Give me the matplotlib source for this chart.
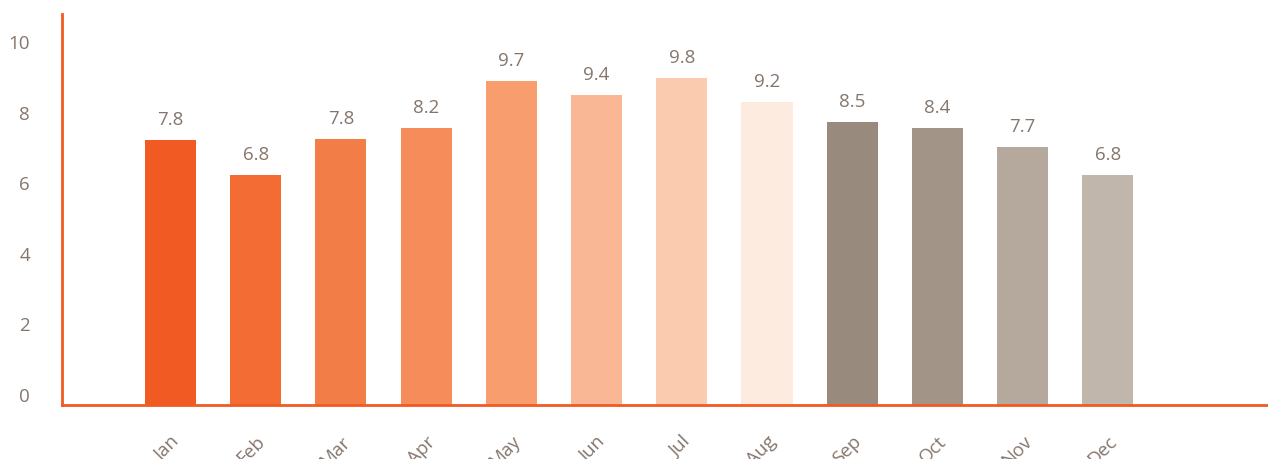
import matplotlib
matplotlib.use("Agg")
import matplotlib.pyplot as plt
import matplotlib.transforms as mtransforms

months = ["Jan", "Feb", "Mar", "Apr", "May", "Jun", "Jul", "Aug", "Sep", "Oct", "Nov", "Dec"]
bar_values = [7.51, 6.52, 7.54, 7.85, 9.18, 8.78, 9.26, 8.58, 8.02, 7.85, 7.31, 6.52]
label_texts = ["7.8", "6.8", "7.8", "8.2", "9.7", "9.4", "9.8", "9.2", "8.5", "8.4", "7.7", "6.8"]
bar_colors = ["#F15A22", "#F26C33", "#F37D46", "#F68C5A", "#F79D6E", "#F9B796", "#FBCBAF",
              "#FCEBDE", "#988B7E", "#A29588", "#B5A99E", "#C0B6AC"]
y_ticks = [0, 2, 4, 6, 8, 10]

plt.rcParams['font.family'] = ['Open Sans', 'DejaVu Sans']
text_color = "#85766C"
axis_color = "#F15A22"
fs = 13.5

W, H = 1268, 459
fig = plt.figure(figsize=(W / 100, H / 100), dpi=100)
ax = fig.add_axes([62 / W, (H - 405) / H, (W - 62) / W, (405 - 14) / H])

x = list(range(len(months)))
ax.bar(x, bar_values, width=0.6, color=bar_colors, zorder=2)

for xi, v, t in zip(x, bar_values, label_texts):
    ax.annotate(t, (xi, v), xytext=(0, 11), textcoords="offset points",
                ha="center", va="baseline", fontsize=fs, color=text_color)

ax.set_xlim(-1.273, 12.88)
ax.set_ylim(0, 11.08)
ax.set_yticks(y_ticks)
ax.set_yticklabels([str(t) for t in y_ticks], fontsize=fs, color=text_color)
ax.set_xticks(x)
ax.set_xticklabels(months, fontsize=fs, color=text_color, rotation=45,
                   ha="right", rotation_mode="anchor")

ax.tick_params(axis="y", length=0, pad=23)
ax.tick_params(axis="x", length=0, pad=20)
offset = mtransforms.ScaledTranslation(0, 10 / 100, fig.dpi_scale_trans)
for lab in ax.get_yticklabels():
    lab.set_transform(lab.get_transform() + offset)

for side in ["top", "right"]:
    ax.spines[side].set_visible(False)
for side in ["left", "bottom"]:
    ax.spines[side].set_color(axis_color)
    ax.spines[side].set_linewidth(2)

fig.savefig("out.png", dpi=100)
